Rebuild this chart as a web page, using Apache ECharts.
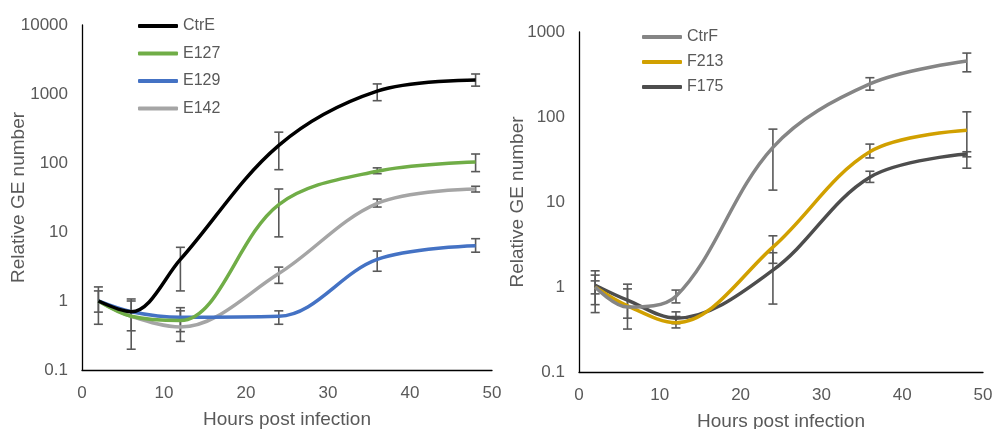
<!DOCTYPE html>
<html>
<head>
<meta charset="utf-8">
<script src="https://cdn.jsdelivr.net/npm/echarts@6/dist/echarts.min.js"></script>
<style>
  html, body { margin: 0; padding: 0; background: #fff; }
  #chart { width: 995px; height: 429px; }
</style>
</head>
<body>
<div id="chart"></div>
<script>
// sampling times (h)
const hours = [2, 6, 12, 24, 36, 48];

// left panel
const ctrE = [1, 0.7, 4, 180, 1100, 1600];
const e127 = [1, 0.6, 0.52, 25, 76, 103];
const e129 = [1, 0.7, 0.58, 0.6, 4, 6.3];
const e142 = [1, 0.6, 0.42, 2.5, 26, 42];
// error bars [low, high], null = none
const ctrEErr = [[0.46, 1.6], [0.37, 1.0], [1.4, 6.0], [80, 280], [800, 1400], [1300, 1950]];
const e127Err = [[0.69, 1.4], null, [0.36, 0.8], [8.5, 42], [70, 85], [75, 135]];
const e129Err = [null, null, null, [0.46, 0.72], [2.7, 5.3], [5.1, 8.0]];
const e142Err = [null, [0.2, 1.07], [0.26, 0.72], [1.8, 3.1], [23, 30], [38, 46]];

// right panel
const ctrF = [1, 0.58, 0.78, 44, 245, 455];
const f213 = [1, 0.6, 0.38, 2.95, 39, 70];
const f175 = [1.05, 0.7, 0.43, 1.58, 19.6, 36.6];
const ctrFErr = [[0.5, 1.55], [0.32, 1.08], [0.65, 0.92], [13.8, 72], [207, 290], [340, 565]];
const f213Err = [[0.62, 1.38], null, [0.37, 0.51], [1.9, 4.0], [33, 48], [25, 115]];
const f175Err = [[0.83, 1.18], [0.43, 0.95], [0.33, 0.45], [0.63, 2.53], [17, 23], [34, 39]];

const yTicksLeft = [0.1, 10000];
const yTicksRight = [0.1, 1000];

const font = 'Arial, "Liberation Sans", sans-serif';
const grey = '#595959';

function pairs(vals) {
  return hours.map((h, i) => [h, vals[i]]);
}

function errData(list) {
  let out = [];
  list.forEach(errs => {
    errs.forEach((e, i) => {
      if (e) out.push([hours[i], e[0], e[1]]);
    });
  });
  return out;
}

function errSeries(idx, list) {
  return {
    type: 'custom',
    xAxisIndex: idx,
    yAxisIndex: idx,
    z: 1,
    silent: true,
    data: errData(list),
    renderItem: function (params, api) {
      const lo = api.coord([api.value(0), api.value(1)]);
      const hi = api.coord([api.value(0), api.value(2)]);
      const w = 4.5;
      const st = { stroke: grey, lineWidth: 1.6 };
      return {
        type: 'group',
        children: [
          { type: 'line', shape: { x1: lo[0], y1: lo[1], x2: hi[0], y2: hi[1] }, style: st },
          { type: 'line', shape: { x1: lo[0] - w, y1: lo[1], x2: lo[0] + w, y2: lo[1] }, style: st },
          { type: 'line', shape: { x1: hi[0] - w, y1: hi[1], x2: hi[0] + w, y2: hi[1] }, style: st }
        ]
      };
    }
  };
}

function lineSeries(idx, name, vals, color) {
  return {
    name: name,
    type: 'line',
    xAxisIndex: idx,
    yAxisIndex: idx,
    data: pairs(vals),
    smooth: 0.35,
    showSymbol: false,
    z: 3,
    lineStyle: { color: color, width: 3.5 },
    itemStyle: { color: color }
  };
}

function xAxis(idx) {
  return {
    gridIndex: idx,
    type: 'value',
    min: 0,
    max: 50,
    interval: 10,
    name: 'Hours post infection',
    nameLocation: 'middle',
    nameGap: 40,
    nameMoveOverlap: false,
    nameTextStyle: { color: grey, fontSize: 19, fontFamily: font },
    axisLine: { lineStyle: { color: '#000', width: 1.3 } },
    axisTick: { show: false },
    splitLine: { show: false },
    axisLabel: { color: grey, fontSize: 17, fontFamily: font, margin: 15 }
  };
}

function yAxis(idx, ticks, gap) {
  return {
    gridIndex: idx,
    type: 'log',
    logBase: 10,
    min: ticks[0],
    max: ticks[1],
    name: 'Relative GE number',
    nameLocation: 'middle',
    nameGap: gap,
    nameMoveOverlap: false,
    nameTextStyle: { color: grey, fontSize: 19, fontFamily: font },
    axisLine: { show: true, lineStyle: { color: '#000', width: 1.3 } },
    axisTick: { show: false },
    splitLine: { show: false },
    axisLabel: {
      color: grey, fontSize: 17, fontFamily: font, margin: 14,
      formatter: v => String(v)
    }
  };
}

const myChart = echarts.init(document.getElementById('chart'));
myChart.setOption({
  animation: false,
  backgroundColor: '#fff',
  grid: [
    { left: 82, right: 503, top: 25, bottom: 59, outerBoundsMode: 'none', containLabel: false },
    { left: 579, right: 12, top: 32, bottom: 57, outerBoundsMode: 'none', containLabel: false }
  ],
  legend: [
    {
      data: ['CtrE', 'E127', 'E129', 'E142'],
      orient: 'vertical',
      left: 133,
      top: 11,
      icon: 'roundRect',
      itemWidth: 40,
      itemHeight: 4,
      itemGap: 7.5,
      textStyle: { color: grey, fontSize: 16, fontFamily: font, lineHeight: 20 }
    },
    {
      data: ['CtrF', 'F213', 'F175'],
      orient: 'vertical',
      left: 637,
      top: 22,
      icon: 'roundRect',
      itemWidth: 40,
      itemHeight: 4,
      itemGap: 5,
      textStyle: { color: grey, fontSize: 16, fontFamily: font, lineHeight: 20 }
    }
  ],
  xAxis: [xAxis(0), xAxis(1)],
  yAxis: [yAxis(0, yTicksLeft, 54), yAxis(1, yTicksRight, 52)],
  series: [
    errSeries(0, [ctrEErr, e127Err, e129Err, e142Err]),
    lineSeries(0, 'E142', e142, '#A5A5A5'),
    lineSeries(0, 'E129', e129, '#4472C4'),
    lineSeries(0, 'E127', e127, '#70AD47'),
    lineSeries(0, 'CtrE', ctrE, '#000000'),
    errSeries(1, [ctrFErr, f213Err, f175Err]),
    lineSeries(1, 'F175', f175, '#4D4D4D'),
    lineSeries(1, 'F213', f213, '#D1A000'),
    lineSeries(1, 'CtrF', ctrF, '#858585')
  ]
});
</script>
</body>
</html>
